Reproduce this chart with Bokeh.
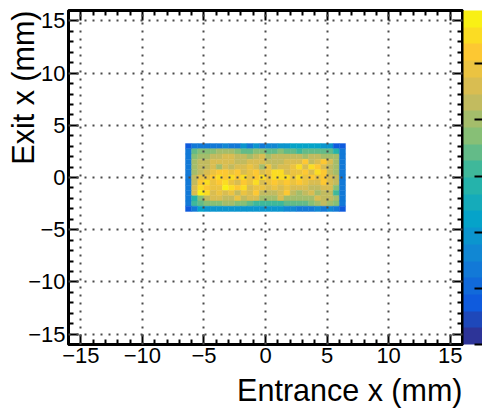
import numpy as np
from bokeh.plotting import figure
from bokeh.models import (ColumnDataSource, LinearColorMapper, ColorBar, FixedTicker,
                          LinearAxis, Range1d, Title)
from bokeh.transform import transform
from bokeh.embed import file_html
from bokeh.resources import INLINE

# Histogram bin centres (mm)
x_centers = [-6.25, -5.75, -5.25, -4.75, -4.25, -3.75, -3.25, -2.75, -2.25, -1.75, -1.25, -0.75, -0.25,
             0.25, 0.75, 1.25, 1.75, 2.25, 2.75, 3.25, 3.75, 4.25, 4.75, 5.25, 5.75, 6.25]
y_centers = [3.0, 2.5, 2.0, 1.5, 1.0, 0.5, 0.0, -0.5, -1.0, -1.5, -2.0, -2.5, -3.0]

# Counts per bin, top row first
row_0 = [15, 27, 27, 27, 27, 27, 33, 27, 27, 39, 27, 39, 27, 33, 33, 39, 39, 45, 45, 45, 45, 45, 39, 39, 15, 15]
row_1 = [27, 69, 75, 75, 75, 81, 81, 81, 75, 69, 69, 75, 75, 69, 69, 75, 69, 69, 63, 69, 69, 69, 69, 69, 57, 27]
row_2 = [27, 75, 81, 81, 87, 87, 93, 93, 87, 87, 81, 87, 93, 81, 87, 87, 87, 87, 87, 81, 87, 87, 81, 81, 81, 27]
row_3 = [27, 81, 87, 87, 93, 93, 93, 93, 87, 87, 93, 93, 93, 87, 87, 87, 93, 93, 93, 105, 87, 93, 105, 93, 81, 27]
row_4 = [27, 81, 87, 87, 93, 81, 93, 87, 93, 93, 99, 93, 81, 99, 87, 93, 93, 99, 111, 93, 111, 105, 93, 87, 81, 27]
row_5 = [27, 81, 87, 93, 99, 105, 105, 99, 105, 93, 99, 105, 93, 99, 111, 111, 93, 99, 99, 105, 93, 111, 105, 87, 81, 27]
row_6 = [27, 87, 99, 99, 105, 111, 105, 111, 105, 111, 99, 105, 111, 99, 111, 111, 111, 99, 111, 99, 105, 99, 105, 93, 87, 27]
row_7 = [27, 87, 105, 111, 99, 105, 111, 99, 93, 105, 99, 111, 93, 99, 105, 99, 105, 99, 105, 99, 93, 93, 105, 93, 87, 27]
row_8 = [27, 93, 111, 105, 99, 99, 117, 111, 105, 111, 93, 99, 99, 93, 99, 93, 99, 93, 93, 93, 87, 87, 93, 93, 75, 27]
row_9 = [27, 93, 117, 111, 93, 99, 93, 99, 87, 99, 93, 105, 87, 87, 87, 93, 105, 87, 81, 87, 93, 81, 87, 87, 63, 27]
row_10 = [27, 57, 75, 87, 93, 93, 87, 87, 99, 87, 93, 93, 81, 81, 81, 93, 81, 81, 81, 81, 81, 93, 87, 87, 81, 27]
row_11 = [27, 63, 69, 75, 75, 75, 81, 81, 75, 75, 69, 63, 63, 63, 63, 63, 69, 69, 69, 69, 75, 81, 87, 81, 75, 27]
row_12 = [15, 27, 45, 39, 39, 39, 39, 39, 39, 39, 39, 39, 39, 39, 39, 39, 33, 33, 27, 27, 27, 33, 27, 33, 27, 15]
rows = [row_0, row_1, row_2, row_3, row_4, row_5, row_6, row_7, row_8, row_9, row_10, row_11, row_12]

x_ticks = [-15, -10, -5, 0, 5, 10, 15]
y_ticks = [-15, -10, -5, 0, 5, 10, 15]
minor_ticks = [t for t in range(-16, 17) if t % 5 != 0]
z_ticks = [0, 20, 40, 60, 80, 100]

# ROOT "bird" palette stops, 20 contour levels
st = np.linspace(0, 1, 9)
R = [0.2082, 0.0592, 0.0780, 0.0232, 0.1802, 0.5301, 0.8186, 0.9956, 0.9764]
G = [0.1664, 0.3599, 0.5041, 0.6419, 0.7178, 0.7492, 0.7328, 0.7862, 0.9832]
B = [0.5293, 0.8684, 0.8385, 0.7914, 0.6425, 0.4662, 0.3499, 0.1968, 0.0539]
tt = (np.arange(20) + 0.5) / 20
palette = ["#%02x%02x%02x" % (int(np.interp(t, st, R) * 255), int(np.interp(t, st, G) * 255),
                              int(np.interp(t, st, B) * 255)) for t in tt]
mapper = LinearColorMapper(palette=palette, low=0, high=119)

xs, ys, zs = [], [], []
for yc, row in zip(y_centers, rows):
    for xc, z in zip(x_centers, row):
        xs.append(xc); ys.append(yc); zs.append(z)
src = ColumnDataSource(dict(x=xs, y=ys, z=zs))

p = figure(width=482, height=412, output_backend="svg", toolbar_location=None,
           x_range=Range1d(-16, 16), y_range=Range1d(-16, 16),
           min_border_left=68, min_border_right=20, min_border_top=10, min_border_bottom=68,
           x_axis_location="below", y_axis_location="left",
           background_fill_color="white", border_fill_color="white")
p.outline_line_color = "black"
p.outline_line_width = 3

p.rect("x", "y", width=0.5, height=0.5, source=src,
       fill_color=transform("z", mapper), line_color=transform("z", mapper), line_width=0.4)

for ax in [p.xaxis[0], p.yaxis[0]]:
    ax.major_label_text_font = "Liberation Sans"
    ax.major_label_text_font_size = "22px"
    ax.major_label_text_color = "black"
    ax.major_label_standoff = 3

def style(ax, ticks):
    ax.ticker = FixedTicker(ticks=ticks, minor_ticks=minor_ticks)
    ax.axis_line_color = None
    ax.major_tick_line_color = "black"
    ax.minor_tick_line_color = "black"
    ax.major_tick_line_width = 2
    ax.minor_tick_line_width = 2
    ax.major_tick_in = 10
    ax.major_tick_out = 0
    ax.minor_tick_in = 5
    ax.minor_tick_out = 0

style(p.xaxis[0], x_ticks)
style(p.yaxis[0], y_ticks)
top = LinearAxis(major_label_text_font_size="0px", major_label_text_color=None)
right = LinearAxis(major_label_text_font_size="0px", major_label_text_color=None)
style(top, x_ticks)
style(right, y_ticks)
p.add_layout(top, "above")
p.add_layout(right, "right")

for g, ticks in [(p.xgrid[0], x_ticks), (p.ygrid[0], y_ticks)]:
    g.ticker = FixedTicker(ticks=ticks)
    g.grid_line_color = "#4a4a4a"
    g.grid_line_width = 2
    g.grid_line_dash = "2 6"
    g.level = "overlay"

cb = ColorBar(color_mapper=mapper, ticker=FixedTicker(ticks=z_ticks, minor_ticks=[]),
              width=19, height=334, padding=0, margin=0, location=(395, 0),
              major_label_text_font_size="0px", major_label_text_color=None,
              major_tick_line_color="black", major_tick_line_width=2, major_tick_in=8,
              minor_tick_line_color=None, bar_line_color=None, scale_alpha=1.0,
              background_fill_color=None, border_line_color=None)
p.add_layout(cb, "center")

p.add_layout(Title(text="Entrance x (mm)", align="right", text_font="Liberation Sans",
                   text_font_size="30.5px", text_font_style="normal", text_color="black",
                   standoff=11, offset=0), "below")
p.add_layout(Title(text="Exit x (mm)", align="right", text_font="Liberation Sans",
                   text_font_size="30.5px", text_font_style="normal", text_color="black",
                   standoff=-28, offset=0), "left")

open("out.html", "w").write(file_html(p, INLINE))
